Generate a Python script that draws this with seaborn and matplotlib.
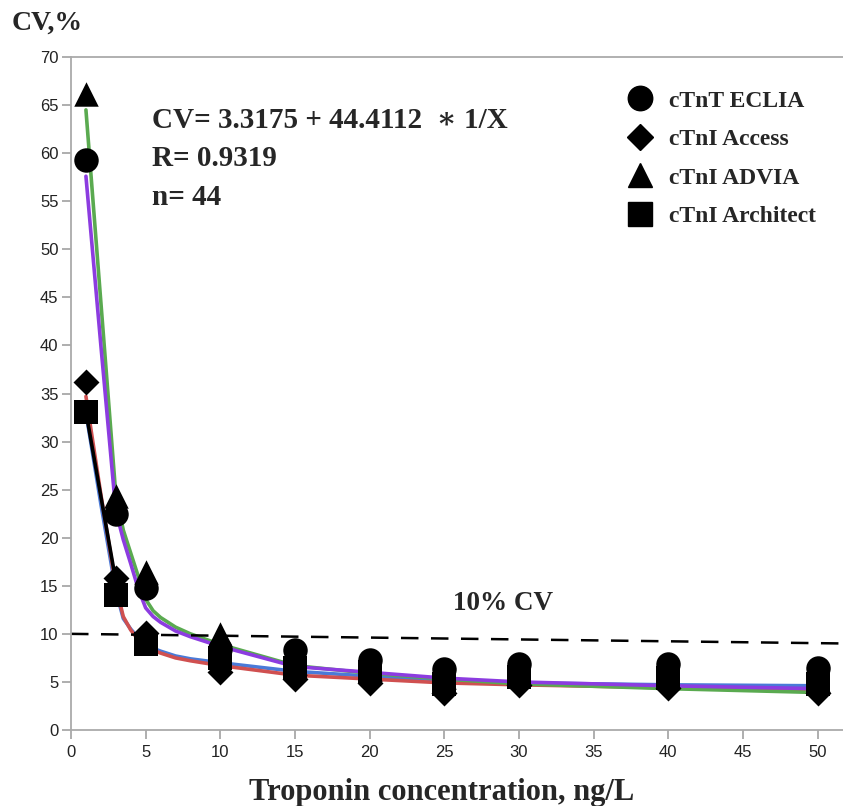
import numpy as np
import pandas as pd
import matplotlib
matplotlib.use("Agg")
import matplotlib.pyplot as plt
from matplotlib.lines import Line2D
import seaborn as sns

# ── Data ──────────────────────────────────────────────────────────────────────
conc = [1, 3, 5, 10, 15, 20, 25, 30, 40, 50]

cv_eclia     = [59.3, 22.5, 14.8, 8.4, 8.3, 7.3, 6.3, 6.9, 6.9, 6.5]
cv_access    = [36.2, 15.8, 10.1, 6.0, 5.3, 4.9, 3.9, 4.7, 4.4, 3.9]
cv_advia     = [66.1, 24.3, 16.4, 10.0, 7.0, 6.3, 5.5, 5.8, 5.6, 5.2]
cv_architect = [33.1, 14.0, 8.9, 7.5, 6.4, 6.0, 4.8, 5.5, 5.4, 4.8]

# fitted curves
fit_x       = [1, 2, 3, 3.5, 4, 4.5, 5, 5.5, 6, 7, 8, 10, 15, 20, 25, 30, 40, 50]
fit_advia   = [64.5, 44.5, 24.5, 20.8, 18.4, 16.0, 13.6, 12.4, 11.7, 10.7, 10.0, 8.9, 6.7, 5.9, 5.3, 4.8, 4.3, 3.9]
fit_eclia   = [57.6, 40.0, 22.8, 19.8, 17.3, 14.7, 12.7, 11.8, 11.2, 10.3, 9.7, 8.7, 6.6, 6.0, 5.4, 5.0, 4.6, 4.3]
fit_arch    = [33.0, 23.5, 14.5, 11.6, 10.5, 9.6, 8.9, 8.5, 8.2, 7.7, 7.4, 7.0, 6.1, 5.6, 5.2, 4.9, 4.7, 4.6]
fit_access  = [34.7, 24.5, 15.0, 11.8, 10.4, 9.4, 8.7, 8.3, 8.0, 7.5, 7.2, 6.7, 5.7, 5.3, 4.9, 4.7, 4.4, 4.2]

black_x = [1, 3]
black_y = [33.1, 15.5]

cut_x = [0, 51.7]
cut_y = [10.0, 9.0]

series = ["cTnT ECLIA", "cTnI Access", "cTnI ADVIA", "cTnI Architect"]
markers = {"cTnT ECLIA": "o", "cTnI Access": "D", "cTnI ADVIA": "^", "cTnI Architect": "s"}
msizes  = {"cTnT ECLIA": 310, "cTnI Access": 175, "cTnI ADVIA": 310, "cTnI Architect": 300}

fit_colors = {"arch": "#4a7ad8", "access": "#d05050", "advia": "#5aaa50", "eclia": "#8c3ce0"}

# ── Long-form frames for seaborn ──────────────────────────────────────────────
pts = pd.DataFrame({
    "conc": conc * 4,
    "cv": cv_eclia + cv_access + cv_advia + cv_architect,
    "series": [s for s in series for _ in conc],
})
fits = pd.DataFrame({
    "conc": fit_x * 4,
    "cv": fit_arch + fit_access + fit_advia + fit_eclia,
    "fit": [k for k in ["arch", "access", "advia", "eclia"] for _ in fit_x],
})

# ── Style ─────────────────────────────────────────────────────────────────────
sns.set_style("white")
plt.rcParams["font.family"] = ["Liberation Sans", "DejaVu Sans"]
serif = ["Liberation Serif", "DejaVu Serif"]

fig = plt.figure(figsize=(8.43, 8.06), dpi=100)
ax = fig.add_axes([71 / 843, 1 - 730 / 806, (843 - 71) / 843, (730 - 57) / 806])

sns.lineplot(data=fits, x="conc", y="cv", hue="fit", palette=fit_colors,
             sort=False, estimator=None, linewidth=2.6, legend=False, ax=ax,
             zorder=2)
ax.plot(black_x, black_y, color="black", linewidth=2.6, zorder=2)
ax.plot(cut_x, cut_y, color="black", linewidth=1.8, dashes=(7, 5), zorder=2)

for name in series:
    sub = pts[pts["series"] == name]
    sns.scatterplot(data=sub, x="conc", y="cv", marker=markers[name],
                    s=msizes[name], color="black", edgecolor="black",
                    linewidth=0, ax=ax, zorder=3)

ax.set_xlim(0, 51.7)
ax.set_ylim(0, 70)
ax.set_xticks(range(0, 51, 5))
ax.set_xticks(np.arange(2.5, 50, 5), minor=True)
ax.set_yticks(range(0, 71, 5))
ax.set_xlabel("")
ax.set_ylabel("")

for side in ["left", "bottom", "top"]:
    ax.spines[side].set_color("#aaaaaa")
    ax.spines[side].set_linewidth(1.3)
ax.spines["right"].set_visible(False)
ax.tick_params(which="major", direction="out", length=6.5, width=1.1,
               color="#999999", labelsize=12, labelcolor="#222222")
ax.tick_params(axis="x", which="major", pad=4.5)
ax.tick_params(axis="y", which="major", pad=2.5)
ax.tick_params(axis="x", which="minor", direction="out", length=3.2,
               width=1.1, color="#999999")
ax.tick_params(left=True, bottom=True)

# ── Annotations ───────────────────────────────────────────────────────────────
ax.text(5.43, 62.6, "CV= 3.3175 + 44.4112  \u2217 1/X", family=serif,
        weight="bold", fontsize=21, va="baseline")
ax.text(5.43, 58.7, "R= 0.9319", family=serif, weight="bold", fontsize=21,
        va="baseline")
ax.text(5.43, 54.6, "n= 44", family=serif, weight="bold", fontsize=21,
        va="baseline")
ax.text(25.6, 12.5, "10% CV", family=serif, weight="bold", fontsize=19.5,
        va="baseline")

fig.text(12 / 843, 1 - 30 / 806, "CV,%", family=serif, weight="bold",
         fontsize=20, va="baseline")
fig.text(441.5 / 843, 1 - 800 / 806, "Troponin concentration, ng/L",
         family=serif, weight="bold", fontsize=22, ha="center", va="baseline")

handles = [Line2D([], [], marker=markers[n], color="black", linestyle="none",
                  markersize=np.sqrt(msizes[n])) for n in series]
ax.legend(handles, series, loc="upper left", frameon=False,
          bbox_to_anchor=(628 / 843, 1 - 90 / 806), bbox_transform=fig.transFigure,
          borderpad=0, borderaxespad=0, handlelength=1.0, handletextpad=0.75,
          labelspacing=0.72, prop={"family": serif, "weight": "bold", "size": 17})

fig.savefig("out.png", dpi=100)
